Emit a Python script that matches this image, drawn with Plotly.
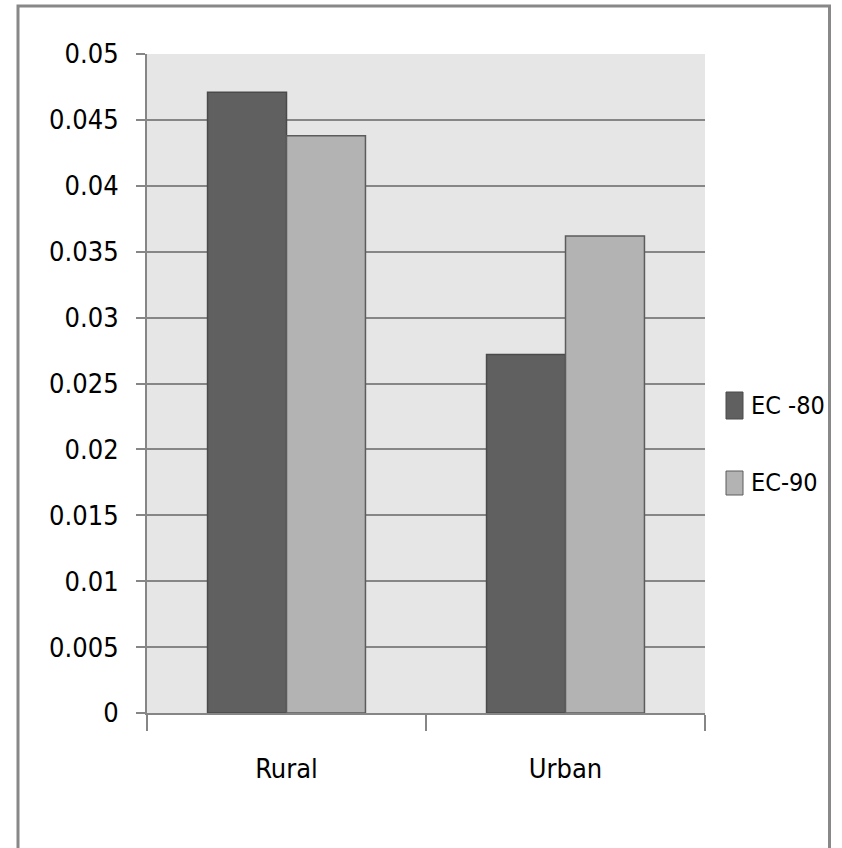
import plotly.graph_objects as go

categories = ["Rural", "Urban"]
series_names = ["EC -80", "EC-90"]
ec80 = [0.0471, 0.0272]
ec90 = [0.0438, 0.0362]
y_ticks = [0, 0.005, 0.01, 0.015, 0.02, 0.025, 0.03, 0.035, 0.04, 0.045, 0.05]
y_tick_labels = ["0", "0.005", "0.01", "0.015", "0.02", "0.025", "0.03", "0.035", "0.04", "0.045", "0.05"]

FONT = "Liberation Sans Narrow, DejaVu Sans Condensed, Liberation Sans, sans-serif"
FS = 27
fills = ["#606060", "#b3b3b3"]
edges = ["#4a4a4a", "#5c5c5c"]

W, H = 842, 848
L, R, T, B = 147, 137, 54, 135
pw, ph = W - L - R, H - T - B

def px_x(x):
    return (x - L) / pw

def px_y(y):
    return (H - B - y) / ph

fig = go.Figure()
for name, vals, fc, ec in zip(series_names, [ec80, ec90], fills, edges):
    fig.add_trace(go.Bar(
        x=categories, y=vals, name=name,
        marker=dict(color=fc, line=dict(color=ec, width=1.5)),
        showlegend=False,
    ))

shapes = [
    # outer chart frame
    dict(type="rect", xref="paper", yref="paper",
         x0=px_x(18), x1=px_x(829.5), y0=px_y(6), y1=px_y(860),
         line=dict(color="#888888", width=3), fillcolor="rgba(0,0,0,0)", layer="above"),
]
annotations = []
# legend swatches and labels
legend_rows = [(392, 419), (471, 495)]
for name, fc, ec, (ya, yb) in zip(series_names, fills, edges, legend_rows):
    shapes.append(dict(type="rect", xref="paper", yref="paper",
                       x0=px_x(726), x1=px_x(743), y0=px_y(yb), y1=px_y(ya),
                       fillcolor=fc, line=dict(color=ec, width=1)))
    annotations.append(dict(xref="paper", yref="paper", x=px_x(749), y=px_y((ya + yb) / 2),
                            text=name, showarrow=False, xanchor="left", yanchor="middle",
                            font=dict(family=FONT, size=25, color="#000000")))

fig.update_layout(
    width=W, height=H,
    margin=dict(l=L, r=R, t=T, b=B),
    paper_bgcolor="#ffffff",
    plot_bgcolor="#e6e6e6",
    barmode="group",
    bargap=0.434,
    bargroupgap=0,
    font=dict(family=FONT, size=FS, color="#000000"),
    shapes=shapes,
    annotations=annotations,
    xaxis=dict(
        type="category",
        showline=True, linecolor="#868686", linewidth=2,
        ticks="outside", tickson="boundaries", ticklen=16, tickwidth=2, tickcolor="#868686",
        ticklabelstandoff=31,
        showgrid=False, zeroline=False,
        tickfont=dict(family=FONT, size=FS, color="#000000"),
    ),
    yaxis=dict(
        range=[0, 0.05],
        tickvals=y_ticks, ticktext=y_tick_labels,
        showline=True, linecolor="#868686", linewidth=2,
        ticks="outside", ticklen=9, tickwidth=2, tickcolor="#868686",
        ticklabelstandoff=12,
        showgrid=True, gridcolor="#868686", gridwidth=2,
        zeroline=False,
        tickfont=dict(family=FONT, size=FS, color="#000000"),
    ),
)

fig.write_html("out.html")
